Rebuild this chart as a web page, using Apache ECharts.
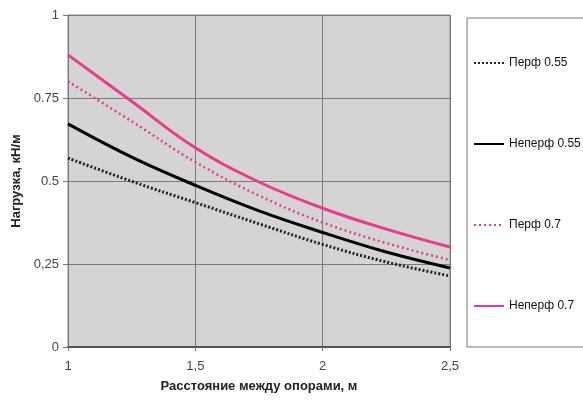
<!DOCTYPE html>
<html><head><meta charset="utf-8">
<script src="https://cdn.jsdelivr.net/npm/echarts@6/dist/echarts.min.js"></script>
<style>html,body{margin:0;padding:0;background:#fff}#c{width:583px;height:415px}</style>
</head><body><div id="c"></div>
<script>
const xValues = [1, 1.25, 1.5, 1.75, 2, 2.25, 2.5];
const perf055 = [0.569, 0.499, 0.435, 0.371, 0.309, 0.256, 0.214];
const neperf055 = [0.672, 0.572, 0.487, 0.410, 0.345, 0.286, 0.238];
const perf07 = [0.80, 0.680, 0.557, 0.456, 0.375, 0.313, 0.262];
const neperf07 = [0.88, 0.740, 0.600, 0.497, 0.418, 0.355, 0.301];
const seriesNames = ['Перф 0.55', 'Неперф 0.55', 'Перф 0.7', 'Неперф 0.7'];
const xTickLabels = {1: '1', 1.5: '1,5', 2: '2', 2.5: '2,5'};
const yTickLabels = {0: '0', 0.25: '0,25', 0.5: '0.5', 0.75: '0.75', 1: '1'};
const xTitle = 'Расстояние между опорами, м';
const yTitle = 'Нагрузка, кН/м';

const pair = arr => xValues.map((x, i) => [x, arr[i]]);
const pink = '#ec3b8d';
const font = 'Liberation Sans Narrow, Liberation Sans, Arial, sans-serif';

const chart = echarts.init(document.getElementById('c'));
chart.setOption({
  animation: false,
  backgroundColor: '#fff',
  grid: {left: 68, right: 133, top: 15, bottom: 68, show: true, backgroundColor: '#d4d4d4', borderColor: '#8a8a8a', borderWidth: 1},
  xAxis: {
    type: 'value', min: 1, max: 2.5, interval: 0.5,
    name: xTitle, nameLocation: 'middle', nameGap: 33,
    nameTextStyle: {fontFamily: font, fontWeight: 'bold', fontSize: 13, color: '#222'},
    axisLine: {lineStyle: {color: '#555', width: 2}},
    axisTick: {show: true, length: 4, lineStyle: {color: '#777'}},
    axisLabel: {margin: 13, fontFamily: 'Liberation Sans, Arial, sans-serif', fontSize: 13, color: '#444', formatter: v => xTickLabels[v] ?? ''},
    splitLine: {show: true, lineStyle: {color: '#7a7a7a', width: 1}}
  },
  yAxis: {
    type: 'value', min: 0, max: 1, interval: 0.25,
    name: yTitle, nameLocation: 'middle', nameGap: 44, nameRotate: 90,
    nameTextStyle: {fontFamily: font, fontWeight: 'bold', fontSize: 13, color: '#222'},
    axisLine: {show: true, lineStyle: {color: '#777', width: 1}},
    axisTick: {show: true, length: 5, lineStyle: {color: '#777'}},
    axisLabel: {margin: 9, fontFamily: 'Liberation Sans, Arial, sans-serif', fontSize: 13, color: '#444', formatter: v => yTickLabels[v] ?? ''},
    splitLine: {show: true, lineStyle: {color: '#7a7a7a', width: 1}}
  },
  legend: {
    orient: 'vertical', left: 467, top: 18,
    padding: [39, 40, 35, 6], itemGap: 69, itemWidth: 30, itemHeight: 14,
    backgroundColor: '#fff', borderColor: '#777', borderWidth: 1,
    itemStyle: {opacity: 0},
    textStyle: {fontFamily: font, fontSize: 12, color: '#111'},
    data: seriesNames
  },
  series: [
    {name: seriesNames[0], type: 'line', smooth: 0.4, symbol: 'none', data: pair(perf055), color: '#222', lineStyle: {color: '#222', width: 3, type: [2, 2]}},
    {name: seriesNames[1], type: 'line', smooth: 0.4, symbol: 'none', data: pair(neperf055), color: '#000', lineStyle: {color: '#000', width: 3}},
    {name: seriesNames[2], type: 'line', smooth: 0.4, symbol: 'none', data: pair(perf07), color: pink, lineStyle: {color: pink, width: 2.5, type: [2, 3]}},
    {name: seriesNames[3], type: 'line', smooth: 0.4, symbol: 'none', data: pair(neperf07), color: pink, lineStyle: {color: pink, width: 3}}
  ]
});
</script></body></html>
